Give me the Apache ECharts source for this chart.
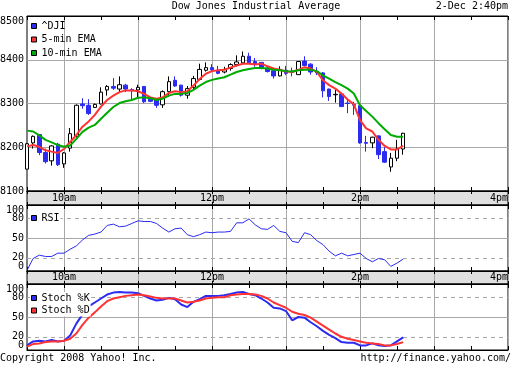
<!DOCTYPE html>
<html><head><meta charset="utf-8">
<script src="https://cdn.jsdelivr.net/npm/echarts@6/dist/echarts.min.js"></script>
<style>html,body{margin:0;padding:0;background:#fff}#c{width:512px;height:365px}</style>
</head><body><div id="c"></div>
<script>
// 5-minute slots from 9:30 to 16:00
const times = ['9:30','9:35','9:40','9:45','9:50','9:55',
 '10:00','10:05','10:10','10:15','10:20','10:25','10:30','10:35','10:40','10:45','10:50','10:55',
 '11:00','11:05','11:10','11:15','11:20','11:25','11:30','11:35','11:40','11:45','11:50','11:55',
 '12:00','12:05','12:10','12:15','12:20','12:25','12:30','12:35','12:40','12:45','12:50','12:55',
 '13:00','13:05','13:10','13:15','13:20','13:25','13:30','13:35','13:40','13:45','13:50','13:55',
 '14:00','14:05','14:10','14:15','14:20','14:25','14:30','14:35','14:40','14:45','14:50','14:55',
 '15:00','15:05','15:10','15:15','15:20','15:25','15:30','15:35','15:40','15:45','15:50','15:55',
 '16:00'];
const hourLabels = {'10:00':'10am','12:00':'12pm','14:00':'2pm','16:00':'4pm'};
const priceTicks = {min:8100, max:8500, step:100};
const oscTicks = [0,20,50,80,100];

const openP  = [8150,8210,8229,8188,8169,8207,8162,8198,8225,8299,8296,8291,8299,8331,8339,8333,8342,8332,8331,8339,8312,8308,8297,8327,8353,8342,8319,8337,8355,8376,8382,8376,8372,8380,8389,8393,8408,8396,8394,8381,8375,8363,8376,8374,8366,8397,8390,8373,8370,8333,8320,8322,8301,8298,8295,8211,8210,8226,8190,8155,8175,8196];
const closeP = [8208,8225,8188,8167,8203,8160,8187,8231,8296,8295,8277,8298,8326,8339,8335,8343,8333,8329,8337,8304,8305,8296,8327,8350,8340,8319,8334,8357,8378,8382,8377,8369,8378,8389,8395,8408,8393,8391,8380,8373,8363,8378,8369,8371,8396,8387,8372,8370,8329,8316,8321,8293,8300,8296,8210,8209,8223,8183,8166,8175,8196,8232];
const lowP   = [8150,8197,8182,8163,8158,8157,8153,8190,8222,8288,8274,8290,8298,8318,8331,8326,8326,8308,8311,8301,8303,8290,8290,8315,8338,8316,8311,8331,8353,8373,8372,8367,8369,8375,8385,8391,8391,8384,8378,8371,8357,8362,8365,8362,8365,8385,8366,8365,8314,8306,8302,8292,8278,8274,8208,8190,8198,8173,8164,8144,8168,8183];
const highP  = [8210,8227,8230,8197,8205,8210,8189,8244,8298,8312,8310,8300,8337,8342,8358,8362,8345,8335,8343,8340,8314,8309,8330,8362,8362,8343,8340,8363,8391,8394,8390,8386,8384,8392,8410,8419,8416,8404,8395,8384,8376,8385,8386,8382,8397,8408,8392,8383,8372,8334,8331,8323,8310,8304,8296,8226,8224,8227,8200,8187,8217,8233];
const ema5   = [8202,8205,8201,8193,8190,8187,8196,8212,8228,8247,8259,8274,8293,8308,8318,8326,8330,8330,8328,8322,8314,8311,8314,8324,8328,8326,8328,8341,8356,8368,8374,8376,8377,8382,8387,8391,8391,8389,8391,8385,8380,8377,8373,8372,8377,8383,8380,8372,8353,8342,8334,8323,8309,8298,8262,8243,8236,8217,8203,8195,8195,8203];
const ema10  = [8238,8236,8227,8217,8211,8205,8201,8204,8219,8235,8245,8251,8265,8279,8292,8301,8305,8308,8313,8314,8312,8308,8311,8318,8322,8322,8324,8331,8341,8349,8354,8357,8360,8366,8372,8376,8379,8381,8381,8380,8377,8376,8374,8373,8376,8377,8377,8374,8364,8357,8349,8342,8334,8323,8296,8283,8270,8255,8241,8228,8224,8224];
const rsi    = [1,19,24,22,22,27,27,33,38,47,54,56,59,69,71,67,68,72,76,75,75,72,65,59,64,65,55,52,55,59,58,59,59,60,73,73,79,70,64,63,69,60,58,45,43,58,55,46,40,30,23,27,23,25,27,19,14,19,17,7,12,18];
const stochK = [7,13,14,13,15,13,14,22,40,54,66,72,78,84,87,88,87,87,86,82,78,75,76,79,77,69,65,73,77,82,82,82,83,85,87,88,85,83,78,72,64,63,59,45,50,49,42,36,29,23,18,12,11,11,7,7,10,7,6,7,13,19];
const stochD = [5,9,10,12,13,13,14,17,25,38,49,57,66,74,78,80,82,83,84,83,81,79,78,78,78,75,72,73,75,78,79,80,80,83,84,85,85,84,82,78,72,68,64,58,55,53,49,43,37,31,25,20,17,15,13,11,10,9,7,7,9,12];

const FONT = 'DejaVu Sans Mono';
const BLUE = '#2b2bf2', RED = '#ff3333', GREEN = '#00aa00', GRIDC = '#a8a8a8';
const txt = {fontFamily: FONT, fontSize: 10, color: '#000'};

const L = 27, R = 4;
const grids = [
  {top:16, height:175, bg:'#fff'},
  {top:191, height:14, bg:'#e0e0e0'},
  {top:205, height:66, bg:'#fff'},
  {top:271, height:13, bg:'#e0e0e0'},
  {top:284, height:66, bg:'#fff'}
].map(g => ({left:L, right:R, top:g.top, height:g.height, show:true, backgroundColor:g.bg, borderColor:'#000', borderWidth:1,
  containLabel:false, outerBoundsMode:'none'}));

const halfHour = (i) => i % 6 === 0;
const hour = (i) => i % 12 === 6;
const labelIdx = (i) => i % 24 === 6;

const xAxis = [];
grids.forEach((g, gi) => {
  const isStrip = gi === 1 || gi === 3;
  ['bottom','top'].forEach(pos => {
    xAxis.push({
      type:'category', data:times, gridIndex:gi, position:pos, boundaryGap:false,
      axisLine:{show:true, lineStyle:{color:'#000', width:1}},
      axisTick:{show:true, inside:true, length: isStrip ? 3 : 4, interval:(i)=>halfHour(i), lineStyle:{color:'#000'}},
      splitLine:{show: pos === 'bottom', interval:(i)=>hour(i), lineStyle:{color:GRIDC, width:1}},
      axisLabel:{show: isStrip && pos === 'bottom', inside:true, margin:2, interval:(i)=>labelIdx(i),
        formatter:(v)=>hourLabels[v] || '', alignMaxLabel:'right', ...txt}
    });
  });
});

const yAxis = [
  {type:'value', gridIndex:0, min:priceTicks.min, max:priceTicks.max, interval:priceTicks.step,
   axisLine:{show:false}, axisTick:{show:false},
   splitLine:{show:true, lineStyle:{color:GRIDC, width:1}},
   axisLabel:{margin:3, formatter:(v)=>String(v), verticalAlignMaxLabel:'top', ...txt}},
  {type:'value', gridIndex:1, show:false},
  {type:'value', gridIndex:2, min:0, max:100, interval:10, axisLine:{show:false}, axisTick:{show:false}, splitLine:{show:false},
   axisLabel:{margin:3, formatter:(v)=>oscTicks.includes(v)? String(v) : '', verticalAlignMaxLabel:'top', verticalAlignMinLabel:'bottom', ...txt}},
  {type:'value', gridIndex:3, show:false},
  {type:'value', gridIndex:4, min:0, max:100, interval:10, axisLine:{show:false}, axisTick:{show:false}, splitLine:{show:false},
   axisLabel:{margin:3, formatter:(v)=>oscTicks.includes(v)? String(v) : '', verticalAlignMaxLabel:'top', verticalAlignMinLabel:'bottom', ...txt}}
];

const guideLines = {
  symbol:'none', silent:true, z:1, label:{show:false}, animation:false,
  lineStyle:{color:GRIDC, width:1},
  data:[{yAxis:80, lineStyle:{type:[4,4], color:GRIDC}}, {yAxis:50, lineStyle:{type:'solid', color:GRIDC}}, {yAxis:20, lineStyle:{type:[4,4], color:GRIDC}}]
};

const candles = openP.map((o,i)=>[o, closeP[i], lowP[i], highP[i]]);
const legendCommon = {orient:'vertical', icon:'rect', itemWidth:5, itemHeight:5, padding:1, selectedMode:false,
  itemStyle:{borderColor:'#000', borderWidth:1}, textStyle:{...txt}};

const option = {
  animation:false,
  title:[
    {text:'Dow Jones Industrial Average', left:'center', top:1, padding:0, textStyle:{...txt, fontWeight:'normal'}},
    {text:'2-Dec 2:40pm', right:4, top:1, padding:0, textStyle:{...txt, fontWeight:'normal'}},
    {text:'Copyright 2008 Yahoo! Inc.', left:0, top:353, padding:0, textStyle:{...txt, fontWeight:'normal'}},
    {text:'http://finance.yahoo.com/', right:1, top:353, padding:0, textStyle:{...txt, fontWeight:'normal'}}
  ],
  legend:[
    {...legendCommon, data:[{name:'^DJI', itemStyle:{color:BLUE}}, '5-min EMA', '10-min EMA'], left:30, top:20, itemGap:3.5},
    {...legendCommon, data:['RSI'], left:30, top:212, backgroundColor:'#fff'},
    {...legendCommon, data:['Stoch %K','Stoch %D'], left:30, top:292, itemGap:2.5, backgroundColor:'#fff'}
  ],
  grid:grids, xAxis:xAxis, yAxis:yAxis,
  series:[
    {name:'5-min EMA', type:'line', xAxisIndex:0, yAxisIndex:0, data:ema5, showSymbol:false, symbol:'none',
     itemStyle:{color:RED}, lineStyle:{color:RED, width:2}},
    {name:'10-min EMA', type:'line', xAxisIndex:0, yAxisIndex:0, data:ema10, showSymbol:false, symbol:'none',
     itemStyle:{color:GREEN}, lineStyle:{color:GREEN, width:2}},
    {name:'^DJI', type:'candlestick', xAxisIndex:0, yAxisIndex:0, data:candles, barWidth:4,
     itemStyle:{color:'#fff', color0:BLUE, borderColor:'#000', borderColor0:BLUE, borderWidth:1}},
    {name:'RSI', type:'line', xAxisIndex:4, yAxisIndex:2, data:rsi, showSymbol:false, symbol:'none',
     itemStyle:{color:BLUE}, lineStyle:{color:BLUE, width:1}, markLine:guideLines},
    {name:'Stoch %K', type:'line', xAxisIndex:8, yAxisIndex:4, data:stochK, showSymbol:false, symbol:'none',
     itemStyle:{color:BLUE}, lineStyle:{color:BLUE, width:2}, markLine:guideLines},
    {name:'Stoch %D', type:'line', xAxisIndex:8, yAxisIndex:4, data:stochD, showSymbol:false, symbol:'none',
     itemStyle:{color:RED}, lineStyle:{color:RED, width:2}}
  ]
};
const chart = echarts.init(document.getElementById('c'), null, {renderer:'canvas'});
chart.setOption(option);
</script></body></html>
